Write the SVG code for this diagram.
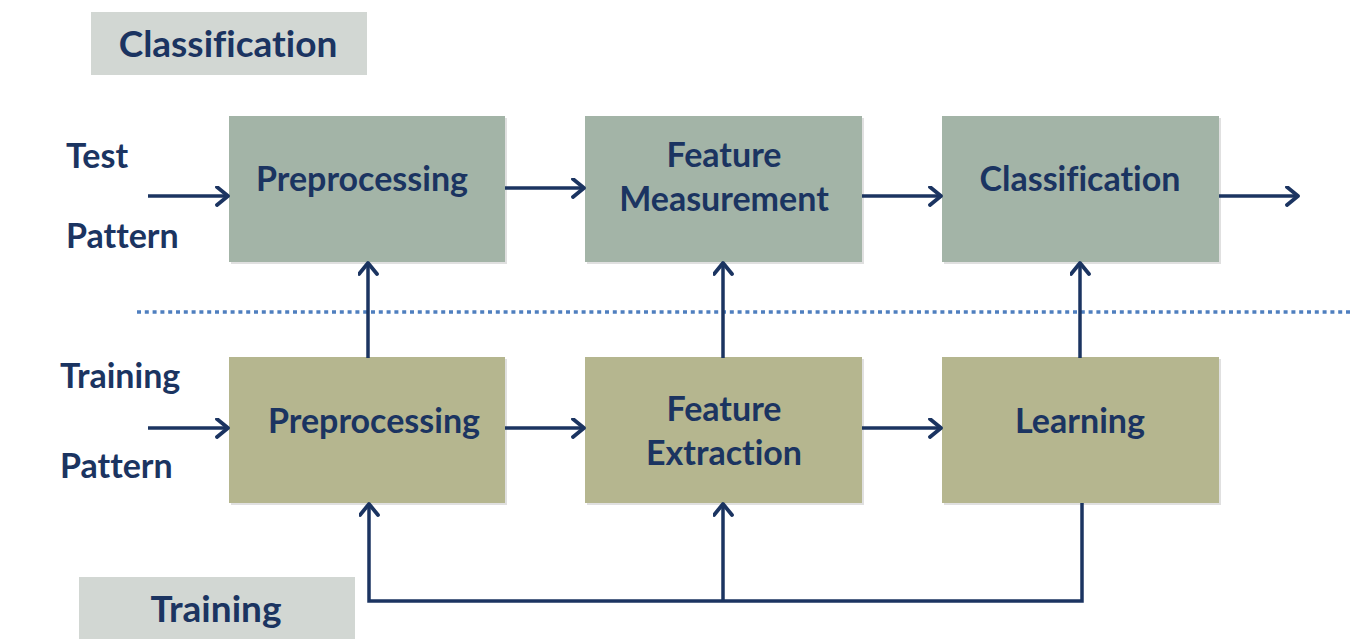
<svg xmlns="http://www.w3.org/2000/svg" width="1352" height="639" viewBox="0 0 1352 639">
<style>
text{font-family:Lato,"Open Sans","Liberation Sans",sans-serif;font-weight:700;fill:#1b3461;font-size:34px;font-variant-ligatures:none;font-feature-settings:"liga" 0}
.c{text-anchor:middle}
.big{font-size:37px}
.top{fill:#a3b4a7}
.bot{fill:#b5b68f}
.lab{fill:#d2d7d3}
.sh{fill:#000;opacity:0.12}
.con{stroke:#1b3461;stroke-width:3.5;fill:none}
</style>
<defs>
<marker id="ah" markerUnits="userSpaceOnUse" markerWidth="22" markerHeight="24" refX="13" refY="10" orient="auto" viewBox="0 0 22 24">
<path d="M2,1 L13,10 L2,19" fill="none" stroke="#1b3461" stroke-width="3.8" stroke-linecap="round" stroke-linejoin="round"/>
</marker>
</defs>
<rect width="1352" height="639" fill="#fff"/>
<g id="label-classification">
<rect class="lab" x="91" y="12" width="276" height="63"/>
<text class="c big" x="228" y="57">Classification</text>
</g>
<g id="label-training">
<rect class="lab" x="79" y="577" width="276" height="62"/>
<text class="c big" x="216" y="622">Training</text>
</g>
<g id="test-pattern">
<text x="66" y="168">Test</text>
<text x="66" y="248">Pattern</text>
</g>
<g id="training-pattern">
<text x="60" y="388">Training</text>
<text x="60" y="478">Pattern</text>
</g>
<g id="top-preprocessing">
<rect class="sh" x="231" y="118" width="276" height="146"/>
<rect class="top" x="229" y="116" width="276" height="146"/>
<text class="c" x="362" y="191">Preprocessing</text>
</g>
<g id="feature-measurement">
<rect class="sh" x="587" y="118" width="277" height="146"/>
<rect class="top" x="585" y="116" width="277" height="146"/>
<text class="c" x="724" y="167">Feature</text>
<text class="c" x="724" y="211">Measurement</text>
</g>
<g id="classification">
<rect class="sh" x="944" y="118" width="277" height="146"/>
<rect class="top" x="942" y="116" width="277" height="146"/>
<text class="c" x="1080" y="191">Classification</text>
</g>
<g id="bottom-preprocessing">
<rect class="sh" x="231" y="359" width="276" height="146"/>
<rect class="bot" x="229" y="357" width="276" height="146"/>
<text class="c" x="374" y="433">Preprocessing</text>
</g>
<g id="feature-extraction">
<rect class="sh" x="587" y="359" width="277" height="146"/>
<rect class="bot" x="585" y="357" width="277" height="146"/>
<text class="c" x="724" y="421">Feature</text>
<text class="c" x="724" y="465">Extraction</text>
</g>
<g id="learning">
<rect class="sh" x="944" y="359" width="277" height="146"/>
<rect class="bot" x="942" y="357" width="277" height="146"/>
<text class="c" x="1080" y="433">Learning</text>
</g>
<g id="connectors">
<line x1="137" y1="312" x2="1352" y2="312" stroke="#4f7fbf" stroke-width="3.5" stroke-dasharray="4 3.8"/>
<path class="con" d="M148,196 H228" marker-end="url(#ah)"/>
<path class="con" d="M505,188 H584" marker-end="url(#ah)"/>
<path class="con" d="M862,196 H941" marker-end="url(#ah)"/>
<path class="con" d="M1219,196 H1298" marker-end="url(#ah)"/>
<path class="con" d="M148,428 H228" marker-end="url(#ah)"/>
<path class="con" d="M505,428 H584" marker-end="url(#ah)"/>
<path class="con" d="M862,428 H941" marker-end="url(#ah)"/>
<path class="con" d="M368,358 V263" marker-end="url(#ah)"/>
<path class="con" d="M723,358 V263" marker-end="url(#ah)"/>
<path class="con" d="M1080,358 V263" marker-end="url(#ah)"/>
<path class="con" d="M1082,503 V601 H369 V504" marker-end="url(#ah)"/>
<path class="con" d="M723,601 V504" marker-end="url(#ah)"/>
</g>
</svg>
